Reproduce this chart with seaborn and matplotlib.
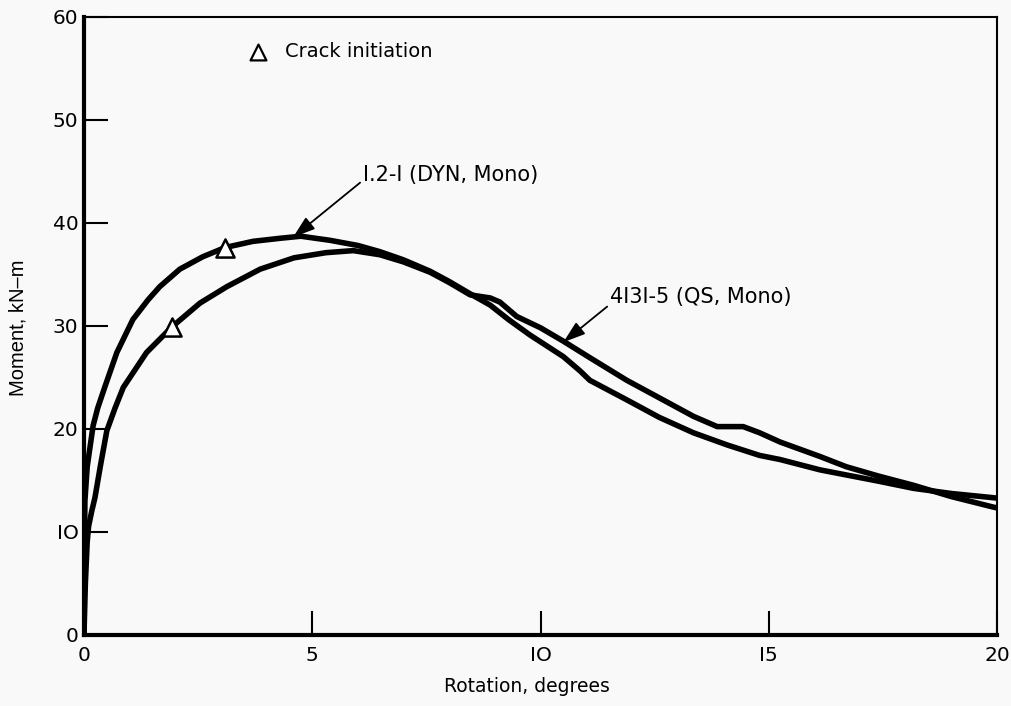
import matplotlib
matplotlib.use("Agg")
import matplotlib.pyplot as plt
import seaborn as sns
import pandas as pd

# ---- data ----
dyn_rotation = [0, 0.01, 0.02, 0.07, 0.2, 0.3, 0.46, 0.72, 1.07, 1.4, 1.66, 2.1, 2.6,
                3.09, 3.7, 4.3, 4.75, 5.39, 6.0, 6.48, 7.0, 7.58, 8.0, 8.46, 8.9,
                9.3, 9.77, 10.5, 10.87, 11.08, 11.89, 12.6, 13.35, 14.1, 14.8,
                15.25, 16.12, 16.7, 17.4, 18.17, 19.0, 19.9, 20.0]
dyn_moment = [0, 8, 13, 16.3, 20.3, 22.0, 24.1, 27.4, 30.6, 32.5, 33.8, 35.5, 36.7,
              37.6, 38.2, 38.5, 38.7, 38.3, 37.8, 37.2, 36.4, 35.3, 34.3, 33.1, 32.0,
              30.6, 29.1, 27.0, 25.6, 24.7, 22.8, 21.1, 19.6, 18.4, 17.4,
              17.0, 16.0, 15.5, 14.9, 14.2, 13.7, 13.3, 13.25]

qs_rotation = [0, 0.03, 0.07, 0.1, 0.17, 0.24, 0.36, 0.5, 0.68, 0.86, 1.37, 1.93,
               2.54, 3.13, 3.86, 4.6, 5.3, 5.9, 6.48, 7.0, 7.58, 8.0, 8.46, 8.9,
               9.11, 9.48, 10.0, 10.5, 11.08, 11.89, 12.6, 13.35, 13.87, 14.44,
               14.8, 15.25, 16.12, 16.7, 17.4, 18.17, 19.0, 19.9, 20.0]
qs_moment = [0, 5, 9, 10.5, 12, 13.3, 16.4, 19.8, 22.0, 24.0, 27.4, 29.9,
             32.2, 33.8, 35.5, 36.6, 37.1, 37.3, 36.9, 36.2, 35.2, 34.2, 33.0, 32.7,
             32.3, 30.9, 29.8, 28.5, 26.9, 24.7, 23.0, 21.2, 20.2, 20.2,
             19.6, 18.7, 17.3, 16.3, 15.4, 14.5, 13.4, 12.4, 12.3]

crack_rotation = [3.09, 1.93]
crack_moment = [37.6, 29.9]

x_ticks = [0, 5, 10, 15, 20]
x_tick_labels = ["0", "5", "IO", "I5", "20"]
y_ticks = [0, 10, 20, 30, 40, 50, 60]
y_tick_labels = ["0", "IO", "20", "30", "40", "50", "60"]

label_dyn = "I.2-I (DYN, Mono)"
label_qs = "4I3I-5 (QS, Mono)"
legend_text = "Crack initiation"

# ---- build frames ----
df = pd.concat([
    pd.DataFrame({"rotation": dyn_rotation, "moment": dyn_moment, "series": label_dyn}),
    pd.DataFrame({"rotation": qs_rotation, "moment": qs_moment, "series": label_qs}),
], ignore_index=True)
cracks = pd.DataFrame({"rotation": crack_rotation, "moment": crack_moment})

sns.set_style("ticks")
plt.rcParams["font.family"] = ["DejaVu Sans"]
plt.rcParams["text.color"] = "black"
plt.rcParams["axes.labelcolor"] = "black"
plt.rcParams["xtick.color"] = "black"
plt.rcParams["ytick.color"] = "black"

bg = "#f9f9f9"
fig = plt.figure(figsize=(10.11, 7.06), dpi=100, facecolor=bg)
ax = fig.add_axes([84 / 1011, 1 - 634.5 / 706, (997 - 84) / 1011, (634.5 - 17) / 706])
ax.set_facecolor(bg)

sns.lineplot(data=df, x="rotation", y="moment", units="series", estimator=None,
             sort=False, color="black", linewidth=4.0, ax=ax, legend=False)
for ln in ax.get_lines():
    ln.set_solid_joinstyle("round")
    ln.set_solid_capstyle("butt")
sns.scatterplot(data=cracks, x="rotation", y="moment", marker="^", s=170,
                facecolor="white", edgecolor="black", linewidth=1.8, zorder=5, ax=ax,
                legend=False)

ax.set_xlim(0, 20)
ax.set_ylim(0, 60)
ax.set_xticks(x_ticks)
ax.set_xticklabels(x_tick_labels)
ax.set_yticks(y_ticks)
ax.set_yticklabels(y_tick_labels)
ax.tick_params(axis="both", direction="in", length=17, width=1.5, colors="black",
               labelsize=14.5)
ax.tick_params(axis="x", pad=8)
ax.tick_params(axis="y", pad=4)

for side in ["left", "bottom"]:
    ax.spines[side].set_linewidth(3.0)
for side in ["top", "right"]:
    ax.spines[side].set_linewidth(1.5)
    ax.spines[side].set_visible(True)
for s in ax.spines.values():
    s.set_color("black")

ax.set_xlabel("Rotation, degrees", fontsize=13.5)
ax.xaxis.set_label_coords((527 - 84) / 913, -(677 - 634.5) / 617.5)
ax.set_ylabel("Moment, kN\u2013m", fontsize=14.5, family=["Liberation Sans", "DejaVu Sans"])
ax.yaxis.set_label_coords(-(84 - 27) / 913, (634.5 - 328) / 617.5)

# legend-like marker annotation
ax.scatter([3.81], [56.6], marker="^", s=130, facecolor="white", edgecolor="black",
           linewidth=1.6, zorder=5)
ax.text(4.4, 56.6, legend_text, fontsize=14, va="center", ha="left")

arrow = dict(arrowstyle="-|>,head_length=0.9,head_width=0.3", color="black", lw=1.3,
             shrinkA=0, shrinkB=0)
ax.annotate(label_dyn, xy=(4.58, 38.6), xytext=(8.04, 44.65), fontsize=15,
            ha="center", va="center", arrowprops=dict(arrow, relpos=(0.0, 0.25)))
ax.annotate(label_qs, xy=(10.5, 28.4), xytext=(13.52, 32.8), fontsize=15,
            ha="center", va="center", arrowprops=dict(arrow, relpos=(0.0, 0.15)))

fig.savefig("out.png", dpi=100, facecolor=bg)
